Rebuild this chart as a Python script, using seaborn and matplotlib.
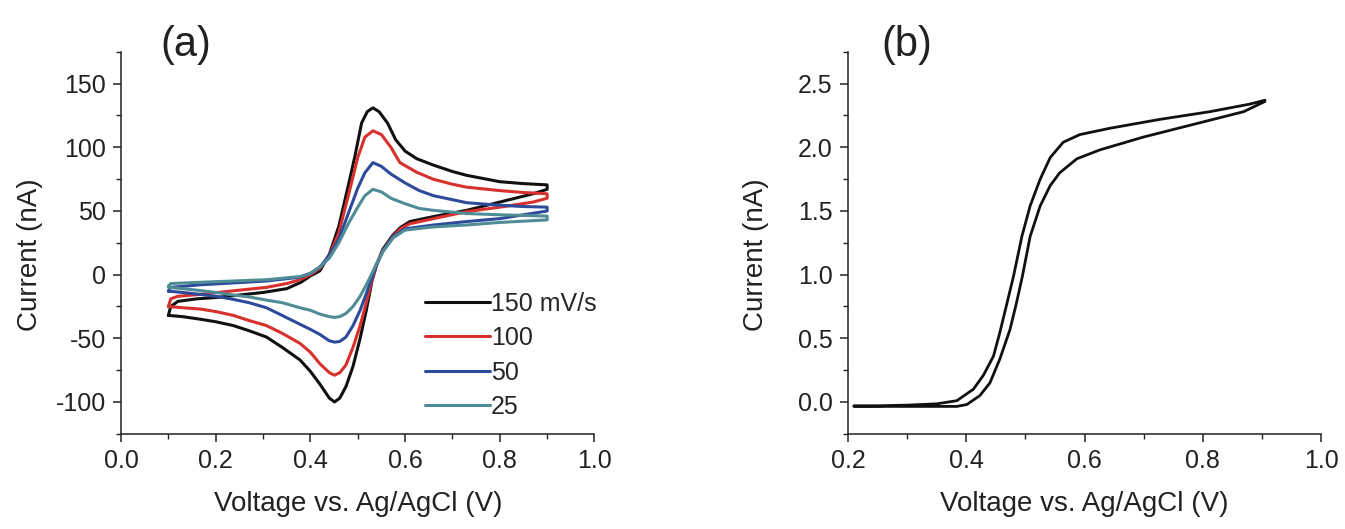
import pandas as pd
import matplotlib
matplotlib.use("Agg")
import matplotlib.pyplot as plt
import seaborn as sns
from matplotlib.ticker import MultipleLocator

# (a) cyclic voltammograms, forward sweep then reverse sweep
v150 = [0.10, 0.105, 0.12, 0.16, 0.20, 0.25, 0.30, 0.35, 0.38, 0.40, 0.42, 0.44, 0.46, 0.48,
        0.494, 0.508, 0.52, 0.532, 0.545, 0.563, 0.58, 0.60, 0.625, 0.66, 0.70, 0.73, 0.80, 0.85, 0.90,
        0.90, 0.87, 0.80, 0.73, 0.66, 0.61, 0.59, 0.574, 0.553, 0.54, 0.53, 0.518, 0.505, 0.49,
        0.475, 0.462, 0.451, 0.44, 0.42, 0.40, 0.378, 0.34, 0.307, 0.27, 0.237, 0.20, 0.167, 0.13, 0.10]
i150 = [-32, -25, -21, -19, -18, -16, -14, -11, -6, -1, 3, 16, 38, 70,
        93, 119, 128, 131, 128, 119, 106, 97, 91, 86, 81, 78, 73, 71.5, 70.5,
        67, 63.5, 57, 50.5, 45.6, 41.7, 37, 31, 20, 8, -5, -28, -50, -72,
        -88, -97, -100, -97, -86, -76, -67, -57, -49, -44, -40, -37, -35, -33, -32]

v100 = [0.10, 0.105, 0.12, 0.167, 0.237, 0.307, 0.35, 0.378, 0.40, 0.42, 0.44, 0.46, 0.48, 0.50,
        0.515, 0.532, 0.55, 0.57, 0.589, 0.624, 0.659, 0.70, 0.73, 0.80, 0.85, 0.90,
        0.90, 0.87, 0.80, 0.73, 0.66, 0.61, 0.59, 0.574, 0.553, 0.54, 0.53, 0.518, 0.505, 0.49,
        0.475, 0.462, 0.451, 0.44, 0.42, 0.40, 0.378, 0.34, 0.307, 0.27, 0.237, 0.20, 0.167, 0.13, 0.10]
i100 = [-25, -19, -17, -15.5, -12.7, -10, -7, -4, 0, 5, 15, 33, 62, 92,
        108, 113, 110, 100, 88, 80.5, 75, 71, 68.7, 66, 64.5, 63.5,
        60, 57, 53, 49.5, 44, 40, 36, 30, 19, 8, -4, -22, -40, -57,
        -71, -77, -79, -77, -70, -61, -54, -46, -40, -36, -32, -29, -27, -26, -25]

v50 = [0.10, 0.105, 0.167, 0.237, 0.307, 0.378, 0.40, 0.42, 0.44, 0.46, 0.48, 0.50, 0.515, 0.532,
       0.55, 0.57, 0.60, 0.63, 0.66, 0.73, 0.80, 0.85, 0.90,
       0.90, 0.80, 0.73, 0.66, 0.60, 0.575, 0.555, 0.54, 0.53, 0.518, 0.505, 0.49, 0.475, 0.462,
       0.451, 0.44, 0.42, 0.40, 0.378, 0.34, 0.307, 0.27, 0.237, 0.20, 0.167, 0.13, 0.10]
i50 = [-13, -10, -8, -6.5, -5, -2, 1, 6, 15, 28, 48, 68, 80, 88,
       85, 79, 72, 66, 62, 56.5, 54.5, 53.5, 53,
       50, 44, 41.7, 39, 36, 30, 20, 8, -2, -15, -28, -40, -49, -52.5,
       -53, -52, -47, -43, -39, -32, -26, -22, -19.4, -17, -15.5, -14, -13]

v25 = [0.10, 0.105, 0.167, 0.237, 0.307, 0.378, 0.40, 0.42, 0.44, 0.46, 0.48, 0.50, 0.515, 0.532,
       0.55, 0.57, 0.60, 0.63, 0.66, 0.73, 0.80, 0.85, 0.90,
       0.90, 0.80, 0.73, 0.66, 0.60, 0.575, 0.555, 0.54, 0.53, 0.518, 0.505, 0.49, 0.475, 0.462,
       0.451, 0.44, 0.42, 0.40, 0.378, 0.34, 0.307, 0.27, 0.237, 0.20, 0.167, 0.13, 0.10]
i25 = [-9, -7, -6, -5, -4, -1.5, 1, 6, 13, 25, 40, 53, 62, 67,
       65, 60, 55.7, 52, 50.5, 48, 47, 46.5, 46,
       43, 41, 39, 37.5, 35, 29, 19, 9, 1, -8, -17, -25, -30.5, -33,
       -33.6, -33, -31, -28, -26, -22, -20, -17.5, -16, -14, -12.5, -11, -10]

rate_labels = ["150 mV/s", "100", "50", "25"]
rate_colors = ["#111111", "#d8302c", "#2d4b9b", "#4f8c95"]

# (b) steady-state voltammogram
v_b = [0.21, 0.25, 0.30, 0.35, 0.384, 0.412, 0.429, 0.446, 0.457, 0.468, 0.480, 0.494, 0.508,
       0.525, 0.542, 0.564, 0.592, 0.643, 0.728, 0.812, 0.880, 0.905,
       0.905, 0.869, 0.784, 0.699, 0.626, 0.587, 0.558, 0.542, 0.525, 0.508, 0.495, 0.485,
       0.474, 0.457, 0.44, 0.423, 0.401, 0.384, 0.35, 0.30, 0.25, 0.21]
i_b = [-0.03, -0.03, -0.025, -0.015, 0.01, 0.10, 0.21, 0.36, 0.55, 0.76, 0.99, 1.30, 1.54,
       1.75, 1.92, 2.04, 2.10, 2.15, 2.22, 2.28, 2.34, 2.37,
       2.36, 2.28, 2.18, 2.08, 1.98, 1.91, 1.80, 1.70, 1.54, 1.30, 0.99, 0.78,
       0.57, 0.34, 0.15, 0.05, -0.02, -0.035, -0.035, -0.035, -0.035, -0.035]

sns.set_style("ticks")
plt.rcParams["font.family"] = ["Liberation Sans", "DejaVu Sans"]
plt.rcParams["axes.unicode_minus"] = False
plt.rcParams["axes.linewidth"] = 1.1
plt.rcParams["axes.edgecolor"] = "#222222"


def style_axis(ax):
    sns.despine(ax=ax)
    ax.tick_params(which="major", direction="out", length=6, width=1.1, pad=5,
                   labelsize=18, colors="#222222")
    ax.tick_params(which="minor", direction="out", length=3.5, width=1.0, colors="#222222")
    ax.set_xlabel("Voltage vs. Ag/AgCl (V)", fontsize=20, color="#222222")
    ax.set_ylabel("Current (nA)", fontsize=20, color="#222222")
    ax.xaxis.set_label_coords(0.5, -0.15)


cv_frames = []
for v, i, lab in zip([v150, v100, v50, v25], [i150, i100, i50, i25], rate_labels):
    cv_frames.append(pd.DataFrame({"V": v, "I": i, "rate": lab}))
cv = pd.concat(cv_frames, ignore_index=True)

fig = plt.figure(figsize=(13.45, 5.29), dpi=100)
ax_a = fig.add_axes([0.090, 0.180, 0.352, 0.722])
ax_b = fig.add_axes([0.6305, 0.180, 0.3517, 0.722])

sns.lineplot(data=cv, x="V", y="I", hue="rate", hue_order=rate_labels,
             palette=dict(zip(rate_labels, rate_colors)), sort=False, estimator=None,
             linewidth=2.2, ax=ax_a)
ax_a.set_xlim(0.0, 1.0)
ax_a.set_ylim(-125, 175)
ax_a.xaxis.set_major_locator(MultipleLocator(0.2))
ax_a.xaxis.set_minor_locator(MultipleLocator(0.1))
ax_a.yaxis.set_major_locator(MultipleLocator(50))
ax_a.yaxis.set_minor_locator(MultipleLocator(25))
ax_a.set_xticklabels([f"{t:.1f}" for t in ax_a.get_xticks()])
style_axis(ax_a)
ax_a.yaxis.set_label_coords(-0.165, 0.47)

handles, labels = ax_a.get_legend_handles_labels()
ax_a.legend(handles, labels, frameon=False, fontsize=18, handlelength=2.6,
            handletextpad=0.05, labelspacing=0.42, borderpad=0, borderaxespad=0,
            loc="upper left", bbox_to_anchor=(0.641, 0.372))

sns.lineplot(x=v_b, y=i_b, sort=False, estimator=None, color="#111111",
             linewidth=2.0, ax=ax_b)
ax_b.set_xlim(0.2, 1.0)
ax_b.set_ylim(-0.25, 2.75)
ax_b.xaxis.set_major_locator(MultipleLocator(0.2))
ax_b.xaxis.set_minor_locator(MultipleLocator(0.1))
ax_b.yaxis.set_major_locator(MultipleLocator(0.5))
ax_b.yaxis.set_minor_locator(MultipleLocator(0.25))
style_axis(ax_b)
ax_b.yaxis.set_label_coords(-0.167, 0.47)

fig.text(0.138, 0.915, "(a)", fontsize=30, ha="center", va="center", color="#222222")
fig.text(0.674, 0.915, "(b)", fontsize=30, ha="center", va="center", color="#222222")

fig.savefig("out.png", dpi=100, facecolor="white")
